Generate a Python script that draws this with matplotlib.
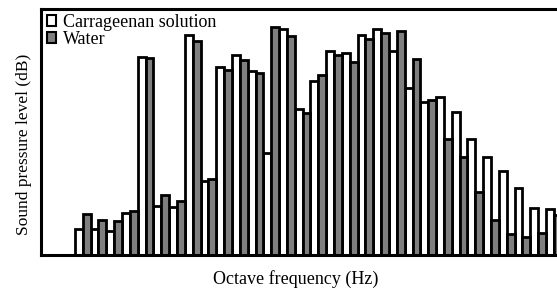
import matplotlib
matplotlib.use("Agg")
import matplotlib.pyplot as plt
from matplotlib.patches import Patch
import numpy as np

plt.rcParams['font.family'] = ['Liberation Serif', 'DejaVu Serif']

series_names = ["Carrageenan solution", "Water"]
carrageenan = [26, 26, 24, 42, 198, 49, 48, 220, 74, 188, 200, 184, 102, 226, 146,
               174, 204, 202, 220, 226, 204, 167, 153, 158, 143, 116, 98, 84, 67, 47, 46]
water = [41, 35, 34, 44, 197, 60, 54, 214, 76, 185, 195, 182, 228, 219, 142,
         180, 200, 193, 216, 222, 224, 196, 155, 116, 98, 63, 35, 21, 18, 22, 40]

x = np.arange(len(carrageenan))

fig = plt.figure(figsize=(5.57, 2.94), dpi=100)
ax = fig.add_axes([41/557, 39/294, 516/557, 246.5/294])

w = 0.5
ax.bar(x - w/2, carrageenan, width=w, color='white', edgecolor='black', linewidth=2.0)
ax.bar(x + w/2, water, width=w, color='#7f7f7f', edgecolor='black', linewidth=2.0)

ax.set_xlim(-2.66, 30.2)
ax.set_ylim(0, 246.5)
ax.set_xticks([])
ax.set_yticks([])
for s in ['left', 'bottom', 'top']:
    ax.spines[s].set_linewidth(2.2)
ax.spines['right'].set_visible(False)

ax.set_xlabel("Octave frequency (Hz)", fontsize=13)
ax.set_ylabel("Sound pressure level (dB)", fontsize=12.5)
ax.xaxis.set_label_coords(0.493, -0.06)
ax.yaxis.set_label_coords(-0.018, 0.45)

handles = [Patch(facecolor='white', edgecolor='black', linewidth=1.5),
           Patch(facecolor='#7f7f7f', edgecolor='black', linewidth=1.5)]
ax.legend(handles, series_names, loc='upper left', bbox_to_anchor=(-0.005, 1.015),
          frameon=False, fontsize=13, handlelength=0.5, handleheight=0.5,
          handletextpad=0.35, labelspacing=0.0, borderaxespad=0.1)

fig.savefig("out.png", dpi=100)
